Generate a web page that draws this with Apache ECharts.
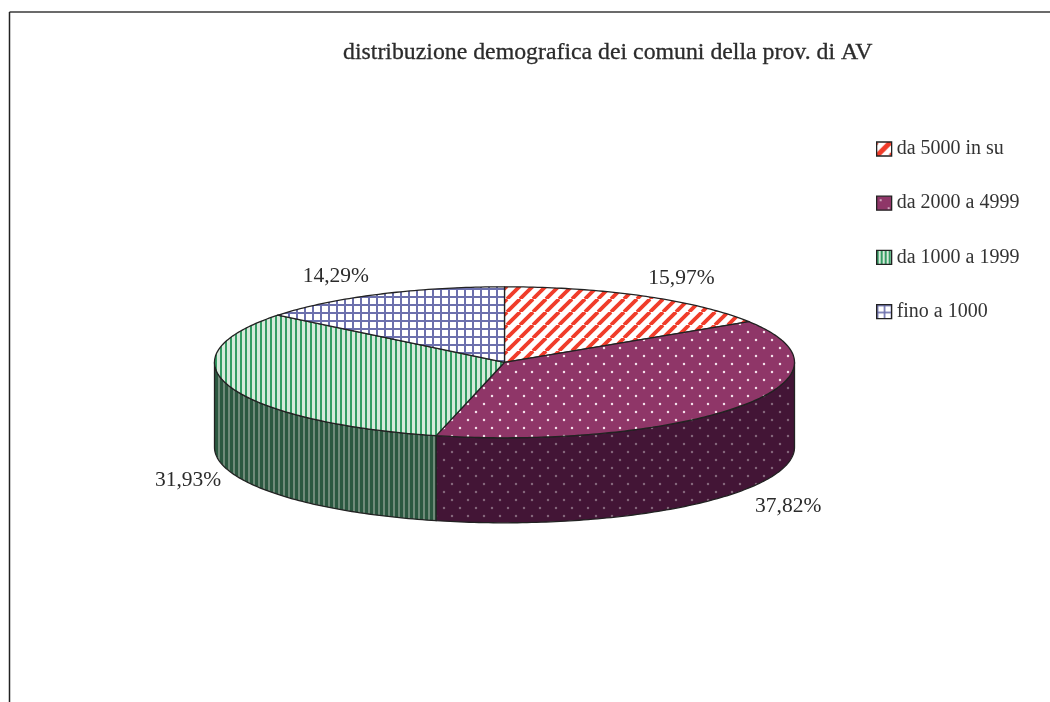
<!DOCTYPE html>
<html><head><meta charset="utf-8">
<style>html,body{margin:0;padding:0;background:#fff}#c{width:1050px;height:702px}</style>
<script src="https://cdn.jsdelivr.net/npm/echarts@6/dist/echarts.min.js"></script></head>
<body><div id="c"></div>
<script>
const chartTitle = 'distribuzione demografica dei comuni della prov. di AV';
const categories = ['da 5000 in su', 'da 2000 a 4999', 'da 1000 a 1999', 'fino a 1000'];
const shares = [15.97, 37.82, 31.93, 14.29];
const labels = ['15,97%', '37,82%', '31,93%', '14,29%'];

const FONT = '"Liberation Serif", serif';
const CX = 504.5, CY = 362.3, RX = 290, RY = 75.5, DEPTH = 85, LRX = 345, LRY = 98;
const labelNudge = [[11, 2], [3, 2], [10, 1], [-19, 2]];

function tile(w, h, draw) {
  const c = document.createElement('canvas'); c.width = w; c.height = h;
  draw(c.getContext('2d'), w, h);
  return { image: c, repeat: 'repeat' };
}
function diag(bg, fg, p, lw) {
  return tile(p, p, (g, w, h) => {
    g.fillStyle = bg; g.fillRect(0, 0, w, h);
    g.strokeStyle = fg; g.lineWidth = lw;
    for (let k = -1; k <= 1; k++) { g.beginPath(); g.moveTo(k * w, h); g.lineTo(k * w + w, 0); g.stroke(); }
  });
}
function dots(bg, fg, pw, ph, r) {
  return tile(pw, ph, (g, w, h) => {
    g.fillStyle = bg; g.fillRect(0, 0, w, h);
    g.fillStyle = fg;
    [[w / 4, h / 4], [3 * w / 4, 3 * h / 4]].forEach(([x, y]) => { g.beginPath(); g.arc(x, y, r, 0, 7); g.fill(); });
  });
}
function vstripes(bg, fg, p, lw) {
  return tile(p, 4, (g, w, h) => { g.fillStyle = bg; g.fillRect(0, 0, w, h); g.fillStyle = fg; g.fillRect(0, 0, lw, h); });
}
function grid(bg, fg, p, lw) {
  return tile(p, p, (g, w, h) => { g.fillStyle = bg; g.fillRect(0, 0, w, h); g.fillStyle = fg; g.fillRect(0, 0, lw, h); g.fillRect(0, 0, w, lw); });
}

const topFills = [
  diag('#ffffff', '#f03c2a', 13, 3.8),
  dots('#8f3668', '#f3dfea', 16, 16, 1.25),
  vstripes('#d6eadb', '#349c63', 5, 2),
  grid('#ffffff', '#6c70ad', 8, 2)
];
const wallFills = [
  diag('#808080', '#762012', 13, 3.8),
  dots('#431536', '#84667b', 16, 16, 1.25),
  vstripes('#6f8a79', '#2b5840', 5, 3),
  grid('#808080', '#363856', 8, 2)
];
const legendFills = [
  diag('#ffffff', '#f03c2a', 14, 5),
  dots('#8f3668', '#f3dfea', 16, 16, 0.9),
  vstripes('#d6eadb', '#349c63', 4, 2),
  grid('#ffffff', '#6c70ad', 7, 1.6)
];

const total = shares.reduce((a, b) => a + b, 0);
const pt = (a, dy) => [CX + RX * Math.sin(a), CY - RY * Math.cos(a) + (dy || 0)];
function arc(a0, a1, dy) {
  const n = Math.max(2, Math.ceil(Math.abs(a1 - a0) * 60)), out = [];
  for (let i = 0; i <= n; i++) out.push(pt(a0 + (a1 - a0) * i / n, dy));
  return out;
}
const EDGE = { stroke: '#222222', lineWidth: 1.3, lineJoin: 'round' };

const series = categories.map((name, i) => {
  const before = shares.slice(0, i).reduce((a, b) => a + b, 0);
  return {
    type: 'custom', name, coordinateSystem: 'none', silent: true,
    z: 2,
    data: [[shares[i]]],
    renderItem(params, api) {
      const a0 = before / total * 2 * Math.PI;
      const a1 = a0 + api.value(0) / total * 2 * Math.PI;
      const children = [];
      const w0 = Math.max(a0, Math.PI / 2), w1 = Math.min(a1, 1.5 * Math.PI);
      if (w1 > w0) {
        const pts = arc(w0, w1, 0).concat(arc(w1, w0, DEPTH));
        children.push({ type: 'polygon', shape: { points: pts }, style: { fill: wallFills[i], ...EDGE } });
      }
      children.push({ type: 'polygon', shape: { points: [[CX, CY]].concat(arc(a0, a1, 0)) }, style: { fill: topFills[i], ...EDGE } });
      const m = (a0 + a1) / 2;
      const front = Math.cos(m) < 0 ? DEPTH : 0;
      children.push({
        type: 'text', z2: 5,
        style: {
          x: CX + LRX * Math.sin(m) + labelNudge[i][0],
          y: CY - LRY * Math.cos(m) + front + labelNudge[i][1],
          text: labels[i], align: 'center', verticalAlign: 'middle',
          font: '21.5px ' + FONT, fill: '#2b2b2b'
        }
      });
      return { type: 'group', children };
    }
  };
});

const option = {
  backgroundColor: '#ffffff',
  animation: false,
  title: {
    text: chartTitle, left: 338, top: 36,
    textStyle: { fontFamily: FONT, fontSize: 23.8, fontWeight: 'normal', color: '#2b2b2b', textBorderColor: '#2b2b2b', textBorderWidth: 0.3 }
  },
  legend: {
    orient: 'vertical', left: 871, top: 134, itemWidth: 15, itemHeight: 14, itemGap: 34.2,
    icon: 'rect',
    textStyle: { fontFamily: FONT, fontSize: 20, color: '#333333', lineHeight: 18 },
    data: categories.map((name, i) => ({
      name, icon: 'rect',
      itemStyle: { color: legendFills[i], borderColor: '#222222', borderWidth: 1.3 }
    }))
  },
  graphic: [
    { type: 'line', silent: true, shape: { x1: 9.5, y1: 12, x2: 1050, y2: 12 }, style: { stroke: '#3a3a3a', lineWidth: 1.5 } },
    { type: 'line', silent: true, shape: { x1: 9.5, y1: 12, x2: 9.5, y2: 702 }, style: { stroke: '#222222', lineWidth: 1.5 } }
  ],
  series
};
echarts.init(document.getElementById('c'), null, { renderer: 'canvas' }).setOption(option);
</script></body></html>
